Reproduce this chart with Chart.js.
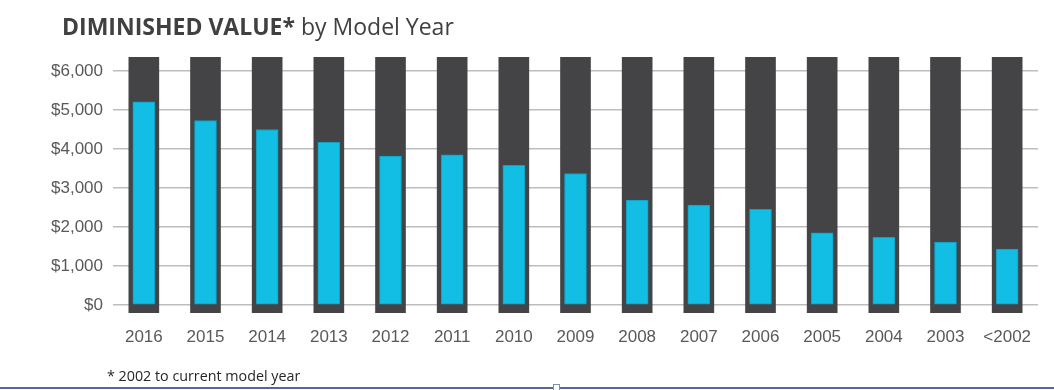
<!DOCTYPE html>
<html>
<head>
<meta charset="utf-8">
<script src="https://cdn.jsdelivr.net/npm/chart.js@4/dist/chart.umd.min.js"></script>
<style>
  body { margin: 0; background: #fff; }
  #wrap { position: relative; width: 1054px; height: 390px; overflow: hidden; }
  #title { position: absolute; left: 62px; top: 10px; font-family: "Open Sans", sans-serif; font-size: 23px; color: #404040; white-space: nowrap; }
  #title b { font-weight: 700; }
  #note { position: absolute; left: 107px; top: 366px; font-family: "Open Sans", sans-serif; font-size: 14.3px; color: #262626; }
  #rule { position: absolute; left: 0; right: 0; top: 387px; height: 2px; background: #4f6b92; }
  #handle { position: absolute; left: 553px; top: 384px; width: 5px; height: 5px; border: 1px solid #7f8fa8; background: #fff; }
</style>
</head>
<body>
<div id="wrap">
  <canvas id="chart"></canvas>
  <div id="title"><b>DIMINISHED VALUE*</b> by Model Year</div>
  <div id="note">* 2002 to current model year</div>
  <div id="rule"></div>
  <div id="handle"></div>
</div>
<script>
// datos
const modelYears = ['2016', '2015', '2014', '2013', '2012', '2011', '2010', '2009', '2008', '2007', '2006', '2005', '2004', '2003', '<2002'];
const diminishedValue = [5210, 4730, 4500, 4170, 3815, 3850, 3580, 3370, 2690, 2560, 2450, 1850, 1735, 1610, 1430];
const backdropRange = [-210, 6360]; // barra gris de fondo
const yTicks = [0, 1000, 2000, 3000, 4000, 5000, 6000];

const tickFont = { family: '"Liberation Sans", Arial, sans-serif', size: 17 };

new Chart(document.getElementById('chart'), {
  type: 'bar',
  data: {
    labels: modelYears,
    datasets: [
      {
        label: 'Diminished value',
        data: diminishedValue,
        backgroundColor: '#12bee3',
        borderColor: '#0f9fc2',
        borderWidth: 1,
        borderSkipped: false,
        barThickness: 22,
        grouped: false,
        order: 0
      },
      {
        label: 'backdrop',
        data: modelYears.map(() => backdropRange),
        backgroundColor: '#444446',
        borderWidth: 0,
        barThickness: 30,
        grouped: false,
        order: 1
      }
    ]
  },
  options: {
    responsive: true,
    maintainAspectRatio: false,
    animation: false,
    layout: { padding: { top: 57, right: 16, left: 0, bottom: 0 } },
    plugins: { legend: { display: false }, tooltip: { enabled: false } },
    scales: {
      x: {
        grid: { display: false, drawTicks: false },
        border: { display: false },
        ticks: { color: '#595959', font: tickFont, padding: 14, maxRotation: 0 },
        afterFit: s => { s.height = 77; }
      },
      y: {
        min: backdropRange[0],
        max: backdropRange[1],
        afterBuildTicks: s => { s.ticks = yTicks.map(v => ({ value: v })); },
        grid: { color: '#bdbdbd', lineWidth: 1.5, drawTicks: false },
        border: { display: false },
        ticks: {
          color: '#595959',
          font: tickFont,
          padding: 10,
          callback: v => '$' + v.toLocaleString('en-US')
        },
        afterFit: s => { s.width = 113; }
      }
    }
  }
});
</script>
</body>
</html>
